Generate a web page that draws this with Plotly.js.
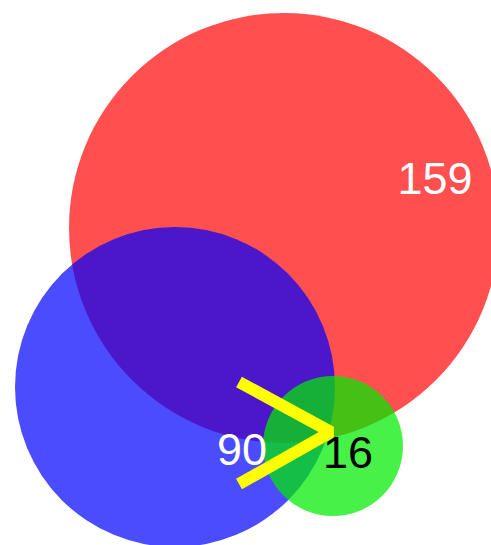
<!DOCTYPE html>
<html>
<head>
<meta charset="utf-8">
<script src="https://cdn.plot.ly/plotly-3.0.1.min.js"></script>
<style>html,body{margin:0;padding:0;background:#fff;}#chart{width:491px;height:545px;}</style>
</head>
<body>
<div id="chart"></div>
<script>
// Set sizes (counts shown on the diagram)
const setLabels = ['159', '90', '16'];
const setColors = ['rgba(255,0,0,0.69)', 'rgba(0,0,255,0.7)', 'rgba(0,235,0,0.72)'];
const labelColors = ['#ffffff', '#ffffff', '#000000'];

// Circle geometry (pixel-like data units)
const circleCX = [284, 175, 333];
const circleCY = [228, 387, 446];
const circleR  = [215, 160, 70];

// Label positions
const labelX = [435, 242, 348];
const labelY = [183, 454, 457];

// Yellow ">" marker
const markX = [239, 331, 239];
const markY = [382, 432, 484];

const shapes = circleCX.map((cx, i) => ({
  type: 'circle', xref: 'x', yref: 'y', layer: 'below',
  x0: cx - circleR[i], x1: cx + circleR[i],
  y0: circleCY[i] - circleR[i], y1: circleCY[i] + circleR[i],
  fillcolor: setColors[i], line: {width: 0}
}));

const traces = [
  {x: markX, y: markY, mode: 'lines', type: 'scatter',
   line: {color: '#ffff00', width: 12}, hoverinfo: 'skip', showlegend: false},
  {x: labelX, y: labelY, mode: 'text', type: 'scatter', text: setLabels,
   textposition: 'middle center',
   textfont: {family: 'Liberation Sans, Arial, sans-serif', size: 45, color: labelColors},
   hoverinfo: 'skip', showlegend: false}
];

const layout = {
  width: 491, height: 545,
  margin: {l: 0, r: 0, t: 0, b: 0, pad: 0},
  paper_bgcolor: '#ffffff', plot_bgcolor: '#ffffff',
  xaxis: {range: [0, 491], visible: false, fixedrange: true},
  yaxis: {range: [545, 0], visible: false, fixedrange: true},
  shapes: shapes,
  showlegend: false
};

Plotly.newPlot('chart', traces, layout, {staticPlot: true, displayModeBar: false});
</script>
</body>
</html>
